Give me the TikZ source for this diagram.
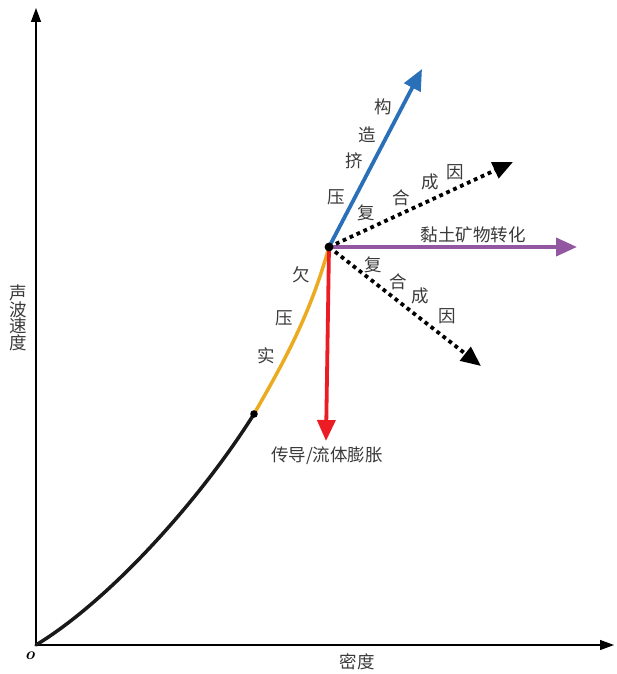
\documentclass[tikz,border=0pt]{standalone}
\usepackage{fontspec}
\newfontfamily\cjk{Noto Sans CJK SC}[Scale=1]
\usetikzlibrary{arrows.meta}
\definecolor{cblue}{HTML}{2A70B8}
\definecolor{cpurple}{HTML}{9357A2}
\definecolor{cred}{HTML}{EC1C24}
\definecolor{corange}{HTML}{EBAA1F}
\definecolor{ctext}{HTML}{3A3A3A}
\begin{document}
\begin{tikzpicture}[x=1pt,y=-1pt,
  lbl/.style={font=\cjk\fontsize{17.5}{17.5}\selectfont, text=ctext, inner sep=0pt},
  axis/.style={line width=1.2pt, -{Triangle[length=14pt,width=10pt]}},
  bigarrow/.style={line width=3.8pt, -{Triangle[length=21pt,width=18pt]}},
  dotarrow/.style={line width=3.8pt, dash pattern=on 3.8pt off 3.8pt, -{Triangle[length=20pt,width=17pt]}},
  curve/.style={line width=3.5pt, line cap=round}]
\useasboundingbox (0,0) rectangle (617,674);
\coordinate (O) at (36,645);
\coordinate (ytop) at (36,8);
\coordinate (xend) at (614,645);
\coordinate (k) at (254,414);
\coordinate (c) at (329,247);
\coordinate (tblue) at (422,69);
\coordinate (tdu) at (513,162);
\coordinate (tp) at (577,247);
\coordinate (tdl) at (481,366);
\coordinate (tr) at (326,441);
% axes
\draw[axis] (O) -- (ytop);
\draw[axis] (O) -- (xend);
% curves
\draw[curve, black!90] (O) .. controls (110,600) and (200,500) .. (k);
\draw[curve, corange] (k) .. controls (285,360) and (310,315) .. (c);
% arrows
\draw[bigarrow, cblue] (c) -- (tblue);
\draw[bigarrow, cpurple] (c) -- (tp);
\draw[bigarrow, cred] (c) -- (tr);
\draw[dotarrow, black] (c) -- (tdu);
\draw[dotarrow, black] (c) -- (tdl);
\fill[black] (k) circle (3.8pt);
\fill[black] (c) circle (4.4pt);
% labels
\node[lbl] (l1) at (383,107) {构};
\node[lbl] (l2) at (367,135) {造};
\node[lbl] (l3) at (354,161) {挤};
\node[lbl] (l4) at (336,197) {压};
\node[lbl] (u1) at (366,213) {复};
\node[lbl] (u2) at (401,198) {合};
\node[lbl] (u3) at (430,182) {成};
\node[lbl] (u4) at (455,172) {因};
\node[lbl] (p1) at (473,235) {黏土矿物转化};
\node[lbl] (d1) at (373,265) {复};
\node[lbl] (d2) at (398,282) {合};
\node[lbl] (d3) at (420,296) {成};
\node[lbl] (d4) at (447,316) {因};
\node[lbl] (q1) at (301,275) {欠};
\node[lbl] (q2) at (284,318) {压};
\node[lbl] (q3) at (266,356) {实};
\node[lbl] (r1) at (327,456) {传导/流体膨胀};
\node[lbl, align=center] (ylab) at (18,318) {声\\[-1pt]波\\[-1pt]速\\[-1pt]度};
\node[lbl] (xlab) at (357,662) {密度};
\node[inner sep=0pt, font=\fontsize{17}{17}\selectfont\bfseries\itshape] (olab) at (30,656) {o};
\end{tikzpicture}
\end{document}
